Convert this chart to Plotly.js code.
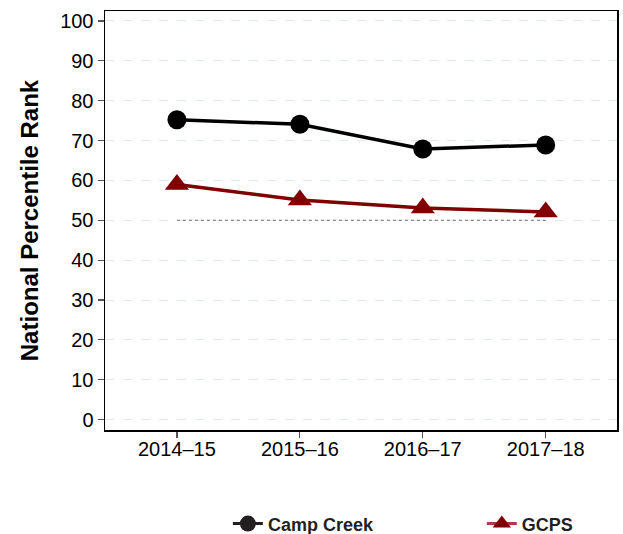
<!DOCTYPE html>
<html><head><meta charset="utf-8">
<script src="https://cdn.plot.ly/plotly-3.0.1.min.js"></script>
<style>html,body{margin:0;padding:0;background:#fff}#c{width:623px;height:534px}</style>
</head><body><div id="c"></div>
<script>
const years = ["2014\u201315","2015\u201316","2016\u201317","2017\u201318"];
const campCreek = [75.2, 74.1, 67.9, 68.9];
const gcps = [59.0, 55.1, 53.1, 52.1];
const reference = [50, 50, 50, 50];
const yTicks = [0,10,20,30,40,50,60,70,80,90,100];

const xi = years.map((_, i) => i);

const traces = [
  {x: xi, y: reference, mode: 'lines', line: {color: '#888', width: 1.2, dash: 'dot'}, showlegend: false, hoverinfo: 'skip'},
  {x: xi, y: gcps, mode: 'lines+markers', name: 'GCPS', line: {color: '#800000', width: 3.5},
   marker: {symbol: 'triangle-up', size: 21, color: '#800000'}, showlegend: false},
  {x: xi, y: campCreek, mode: 'lines+markers', name: 'Camp Creek', line: {color: '#000', width: 3.5},
   marker: {symbol: 'circle', size: 19, color: '#000'}, showlegend: false},
  {x: [null], y: [null], mode: 'lines+markers', name: 'Camp Creek', line: {color: '#231f20', width: 3},
   marker: {symbol: 'circle', size: 21, color: '#231f20'}, legend: 'legend'},
  {x: [null], y: [null], mode: 'lines+markers', name: 'GCPS', line: {color: '#b03a50', width: 3},
   marker: {symbol: 'triangle-up', size: 22, color: '#800000'}, legend: 'legend2'}
];

const legFont = {size: 18, family: '"Liberation Sans", Arial, sans-serif', weight: 'bold', color: '#231f20'};

const layout = {
  width: 623, height: 534,
  margin: {l: 105, r: 6, t: 11, b: 104, autoexpand: false},
  paper_bgcolor: '#fff', plot_bgcolor: '#fff',
  font: {family: '"Liberation Sans", Arial, sans-serif', size: 20, color: '#000'},
  xaxis: {
    range: [-0.585, 3.58], tickmode: 'array', tickvals: xi, ticktext: years,
    showgrid: false, zeroline: false, showline: true, linecolor: '#000', linewidth: 1.5, mirror: true,
    ticks: 'outside', ticklen: 6, tickcolor: '#555', tickwidth: 1.2,
    tickfont: {size: 20}, ticklabelstandoff: -6, fixedrange: true
  },
  yaxis: {
    range: [-2.6, 102.5], tickmode: 'array', tickvals: yTicks,
    showgrid: true, gridcolor: '#dfeaea', griddash: 'dash', gridwidth: 1,
    zeroline: false, showline: true, linecolor: '#000', linewidth: 1.5, mirror: true,
    ticks: 'outside', ticklen: 6, tickcolor: '#555', tickwidth: 1.2,
    tickfont: {size: 20},
    title: {text: 'National Percentile Rank', font: {size: 24, family: '"Liberation Sans", Arial, sans-serif', weight: 'bold'}, standoff: 14},
    fixedrange: true
  },
  showlegend: true,
  legend: {
    orientation: 'h', x: 0.24, xanchor: 'left', y: -0.224, yanchor: 'middle',
    font: legFont, itemsizing: 'trace', bgcolor: 'rgba(0,0,0,0)'
  },
  legend2: {
    orientation: 'h', x: 0.736, xanchor: 'left', y: -0.224, yanchor: 'middle',
    font: legFont, itemsizing: 'trace', bgcolor: 'rgba(0,0,0,0)'
  }
};

Plotly.newPlot('c', traces, layout, {displayModeBar: false, staticPlot: true});
</script></body></html>
